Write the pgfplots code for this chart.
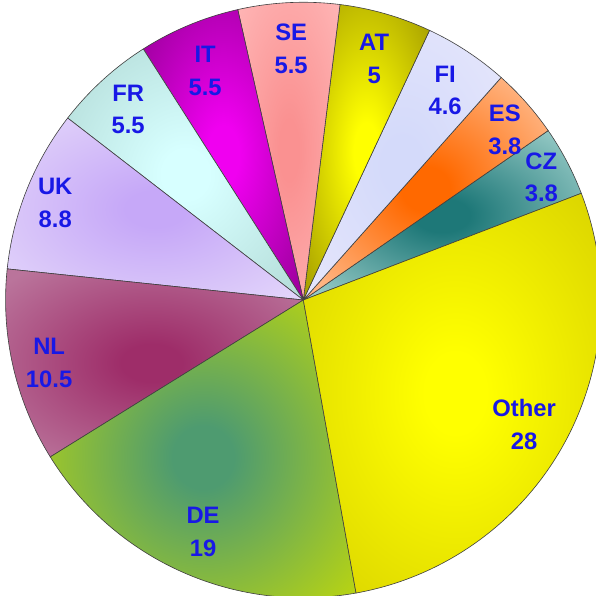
\documentclass[border=0pt]{standalone}
\usepackage{pgfplots}
\pgfplotsset{compat=1.18}
\usepackage{pgfplotstable}
\usepackage{fontspec}
\setmainfont{Liberation Sans}

\definecolor{lblue}{RGB}{24,24,230}

% slice shadings: index, inner RGB, outer RGB, stop of outer colour
\newcommand\mkslice[4]{%
  \definecolor{in#1}{RGB}{#2}\definecolor{out#1}{RGB}{#3}%
  \pgfdeclareradialshading{sh#1}{\pgfpointorigin}{color(0bp)=(in#1); color(5bp)=(in#1); color(#4)=(out#1); color(70bp)=(out#1)}}
\mkslice{0}{30,120,120}{150,202,198}{32bp}   % CZ
\mkslice{1}{255,105,0}{255,180,130}{30bp}    % ES
\mkslice{2}{212,218,250}{232,232,252}{38bp}  % FI
\mkslice{3}{255,255,0}{135,125,0}{44bp}      % AT
\mkslice{4}{250,145,145}{255,185,185}{38bp}  % SE
\mkslice{5}{240,0,240}{125,0,125}{44bp}      % IT
\mkslice{6}{215,255,255}{172,212,207}{40bp}  % FR
\mkslice{7}{198,168,248}{226,212,250}{33bp}  % UK
\mkslice{8}{158,45,105}{186,116,155}{32bp}   % NL
\mkslice{9}{78,155,112}{180,210,22}{32bp}    % DE
\mkslice{10}{255,255,0}{198,188,0}{50bp}     % Other

\pgfplotstableread{
name  value lx  ly
CZ    3.8   541 413
ES    3.8   505 460
FI    4.6   446 499
AT    5     376 530
SE    5.5   294 540
IT    5.5   209 518
FR    5.5   133 480
UK    8.8   61  388
NL    10.5  55  230
DE    19    207 63
Other 28    524 169
}\pietable

\begin{document}
\begin{tikzpicture}
\gdef\cum{21}
\foreach \i in {0,...,10} {
  \pgfplotstablegetelem{\i}{value}\of\pietable \let\v\pgfplotsretval
  \pgfplotstablegetelem{\i}{name}\of\pietable \let\n\pgfplotsretval
  \pgfplotstablegetelem{\i}{lx}\of\pietable \let\lx\pgfplotsretval
  \pgfplotstablegetelem{\i}{ly}\of\pietable \let\ly\pgfplotsretval
  \pgfmathsetmacro\s{\cum}
  \pgfmathsetmacro\e{\cum+3.6*\v}
  \expandafter\xdef\csname slS\i\endcsname{\s}
  \expandafter\xdef\csname slE\i\endcsname{\e}
  \expandafter\xdef\csname slN\i\endcsname{\n}
  \expandafter\xdef\csname slV\i\endcsname{\v}
  \expandafter\xdef\csname slX\i\endcsname{\lx}
  \expandafter\xdef\csname slY\i\endcsname{\ly}
  \xdef\cum{\e}
}
\begin{axis}[scale only axis, width=595pt, height=596pt,
  xmin=0, xmax=595, ymin=0, ymax=596, hide axis, clip=true]
\pgfplotsinvokeforeach{0,...,10}{%
  \path[draw=black!75, line width=0.6pt, shading=sh#1]
    (axis cs:306,292) -- ++(\csname slS#1\endcsname:294pt)
    arc[start angle=\csname slS#1\endcsname, end angle=\csname slE#1\endcsname, radius=294pt] -- cycle;
}
\pgfplotsinvokeforeach{0,...,10}{%
  \node[align=center, text=lblue, font=\bfseries\fontsize{23.5}{32}\selectfont]
    at (axis cs:\csname slX#1\endcsname,\csname slY#1\endcsname)
    {\csname slN#1\endcsname\\\csname slV#1\endcsname};
}
\end{axis}
\end{tikzpicture}
\end{document}
